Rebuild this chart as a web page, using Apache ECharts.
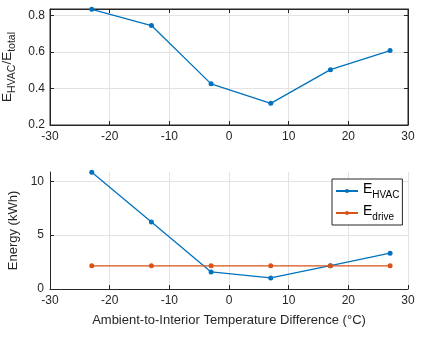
<!DOCTYPE html>
<html><head><meta charset="utf-8">
<script src="https://cdn.jsdelivr.net/npm/echarts@6/dist/echarts.min.js"></script>
<style>html,body{margin:0;padding:0;background:#fff}#c{width:425px;height:337px}</style>
</head><body><div id="c"></div>
<script>
const temps = [-23, -13, -3, 7, 17, 27];
const ratio = [0.835, 0.746, 0.426, 0.319, 0.504, 0.609];
const eHvac = [10.85, 6.22, 1.59, 1.03, 2.17, 3.33];
const eDrive = [2.15, 2.15, 2.15, 2.15, 2.15, 2.15];
const seriesNames = ['E_HVAC', 'E_drive'];

const FONT = '"Liberation Sans", Arial, sans-serif';
const AX = '#262626';
const GRIDC = '#e3e3e3';
const BLUE = '#0072BD';
const ORANGE = '#D95319';

const pairs = (ys) => temps.map((t, i) => [t, ys[i]]);

const baseX = (gi) => ({
  type: 'value', gridIndex: gi, min: -30, max: 30, interval: 10,
  axisLine: { show: true, onZero: false, lineStyle: { color: AX, width: 1 } },
  axisTick: { show: true, inside: true, length: 4, lineStyle: { color: AX } },
  axisLabel: { color: AX, fontSize: 12, fontFamily: FONT, margin: 6 },
  splitLine: { show: true, lineStyle: { color: GRIDC, width: 1 } }
});

const subRich = {
  m: { fontSize: 13.5, fontFamily: FONT, color: AX, lineHeight: 13, verticalAlign: 'top' },
  s: { fontSize: 10.5, fontFamily: FONT, color: AX, lineHeight: 17, verticalAlign: 'bottom' }
};

const chart = echarts.init(document.getElementById('c'), null, { renderer: 'canvas' });
chart.setOption({
  animation: false,
  backgroundColor: '#fff',
  grid: [
    { left: 50, top: 9, width: 358, height: 116, show: true, borderColor: AX, borderWidth: 1,
      backgroundColor: 'transparent', outerBoundsMode: 'none', containLabel: false },
    { left: 50, top: 172, width: 358, height: 117, outerBoundsMode: 'none', containLabel: false }
  ],
  xAxis: [
    baseX(0),
    Object.assign(baseX(1), {
      name: 'Ambient-to-Interior Temperature Difference (°C)',
      nameLocation: 'middle', nameGap: 25,
      nameTextStyle: { color: AX, fontSize: 13, fontFamily: FONT }
    }),
    { type: 'value', gridIndex: 0, position: 'top', min: -30, max: 30, interval: 10,
      axisLine: { show: true, onZero: false, lineStyle: { color: AX } },
      axisTick: { show: true, inside: true, length: 4, lineStyle: { color: AX } },
      axisLabel: { show: false }, splitLine: { show: false } }
  ],
  yAxis: [
    { type: 'value', gridIndex: 0, min: 0.2, max: 0.837, interval: 0.2,
      axisLine: { show: true, onZero: false, lineStyle: { color: AX } },
      axisTick: { show: true, inside: true, length: 4, lineStyle: { color: AX } },
      axisLabel: { color: AX, fontSize: 12, fontFamily: FONT, margin: 5, showMaxLabel: false,
        formatter: v => v.toFixed(1) },
      splitLine: { show: true, showMaxLine: false, lineStyle: { color: GRIDC } },
      name: '{m|E}{s|HVAC}{m|/E}{s|total}', nameLocation: 'middle', nameRotate: 90, nameGap: 27,
      nameTextStyle: { rich: subRich }
    },
    { type: 'value', gridIndex: 1, min: 0, max: 10.87, interval: 5,
      axisLine: { show: true, onZero: false, lineStyle: { color: AX } },
      axisTick: { show: true, inside: true, length: 4, lineStyle: { color: AX } },
      axisLabel: { color: AX, fontSize: 12, fontFamily: FONT, margin: 6, showMaxLabel: false },
      splitLine: { show: true, showMaxLine: false, lineStyle: { color: GRIDC } },
      name: 'Energy (kWh)', nameLocation: 'middle', nameGap: 23,
      nameTextStyle: { color: AX, fontSize: 13, fontFamily: FONT }
    },
    { type: 'value', gridIndex: 0, position: 'right', min: 0.2, max: 0.837, interval: 0.2,
      axisLine: { show: true, onZero: false, lineStyle: { color: AX } },
      axisTick: { show: true, inside: true, length: 4, lineStyle: { color: AX } },
      axisLabel: { show: false }, splitLine: { show: false } }
  ],
  legend: {
    left: 332, top: 179, orient: 'vertical',
    backgroundColor: '#fff', borderColor: AX, borderWidth: 1,
    padding: [3, 3, 3, 3], itemGap: 4, itemWidth: 22, itemHeight: 5,
    data: seriesNames,
    formatter: n => n === 'E_HVAC' ? '{m|E}{s|HVAC}' : '{m|E}{s|drive}',
    textStyle: { rich: {
      m: { fontSize: 14, fontFamily: FONT, color: '#000', lineHeight: 14, verticalAlign: 'top' },
      s: { fontSize: 10, fontFamily: FONT, color: '#000', lineHeight: 18, verticalAlign: 'bottom' }
    } }
  },
  series: [
    { name: 'ratio', type: 'line', xAxisIndex: 0, yAxisIndex: 0, data: pairs(ratio),
      symbol: 'circle', symbolSize: 5, color: BLUE, lineStyle: { width: 1.3, color: BLUE } },
    { name: 'E_HVAC', type: 'line', xAxisIndex: 1, yAxisIndex: 1, data: pairs(eHvac),
      symbol: 'circle', symbolSize: 5, color: BLUE, lineStyle: { width: 1.3, color: BLUE } },
    { name: 'E_drive', type: 'line', xAxisIndex: 1, yAxisIndex: 1, data: pairs(eDrive),
      symbol: 'circle', symbolSize: 5, color: ORANGE, lineStyle: { width: 1.3, color: ORANGE } }
  ]
});
</script></body></html>
